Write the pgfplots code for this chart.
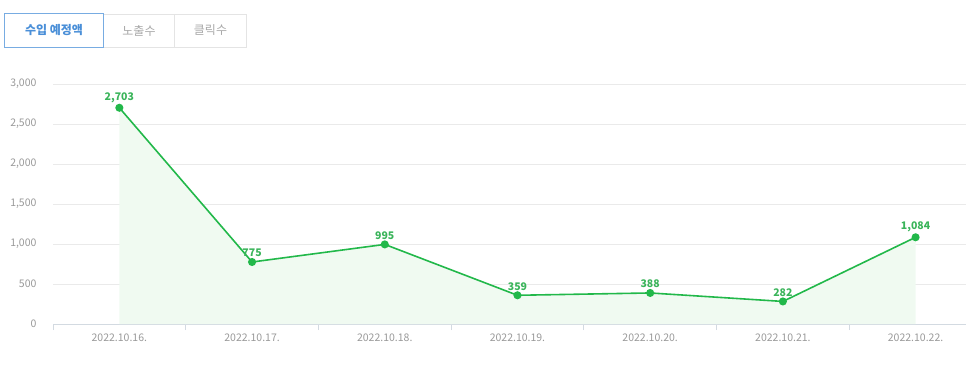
\documentclass[border=0pt]{standalone}
\usepackage{fontspec}
\setmainfont{Noto Sans CJK KR}
\usepackage{pgfplots}
\pgfplotsset{compat=1.18}
\definecolor{linec}{HTML}{22B84A}
\definecolor{fillc}{HTML}{F0FAF1}
\definecolor{labc}{HTML}{3AB45A}
\definecolor{tickc}{HTML}{999999}
\definecolor{gridc}{HTML}{EAEAEA}
\definecolor{axisc}{HTML}{D3DAE1}
\definecolor{tabbord}{RGB}{120,172,226}
\definecolor{tabtxt}{HTML}{4A8FD8}
\definecolor{tabgray}{HTML}{E4E4E4}
\definecolor{tabgtxt}{HTML}{A8A8A8}
\begin{document}
\begin{tikzpicture}[x=1bp,y=1bp]
\path[use as bounding box] (0,0) rectangle (966,380);
\path[draw=tabgray, line width=0.8bp, fill=white] (103,333) rectangle (246.5,366);
\path[draw=tabgray, line width=0.8bp] (174.5,333)--(174.5,366);
\node[draw=tabbord, fill=white, line width=1bp, minimum width=98bp, minimum height=33bp, inner sep=0pt, text=tabtxt] at (54,349.5) {\fontsize{12bp}{14bp}\selectfont\bfseries 수입 예정액};
\node[text=tabgtxt] at (139,349.5) {\fontsize{12bp}{14bp}\selectfont 노출수};
\node[text=tabgtxt] at (210.5,349.5) {\fontsize{12bp}{14bp}\selectfont 클릭수};
\begin{axis}[
  at={(53bp,56bp)}, anchor=south west,
  scale only axis, width=913bp, height=240bp,
  xmin=-0.5, xmax=6.38, ymin=0, ymax=3000,
  axis x line*=bottom, axis y line*=left,
  x axis line style={draw=axisc, line width=1bp, -},
  y axis line style={draw=none},
  ytick={0,500,...,3000},
  ymajorgrids, grid style={draw=gridc, line width=0.8bp},
  ytick style={draw=none},
  major tick length=0pt, tick align=outside,
  xtick={0,1,2,3,4,5,6},
  xticklabels={2022.10.16.,2022.10.17.,2022.10.18.,2022.10.19.,2022.10.20.,2022.10.21.,2022.10.22.},
  xtick style={draw=axisc, line width=0.8bp},
  extra x ticks={-0.5,0.5,1.5,2.5,3.5,4.5,5.5},
  extra x tick labels={},
  extra x tick style={major tick length=6bp, grid=none},
  xticklabel style={text=tickc, font=\fontsize{10.5bp}{12bp}\selectfont, yshift=-6bp},
  yticklabel style={text=tickc, font=\fontsize{10.5bp}{12bp}\selectfont, xshift=-13bp},
  /pgf/number format/assume math mode=true,
  /pgf/number format/.cd, fixed, precision=0, 1000 sep={,},
]
\addplot[fill=fillc, draw=none] table {
x y
0 2703
1 775
2 995
3 359
4 388
5 282
6 1084
} \closedcycle;
\addplot[linec, line width=1.6bp, mark=*, mark size=3.2bp, mark options={fill=linec, draw=linec},
  nodes near coords, every node near coord/.append style={text=labc, font=\bfseries\fontsize{10.5bp}{12bp}\selectfont, anchor=south, yshift=1bp}] table {
x y
0 2703
1 775
2 995
3 359
4 388
5 282
6 1084
};
\end{axis}
\end{tikzpicture}
\end{document}
